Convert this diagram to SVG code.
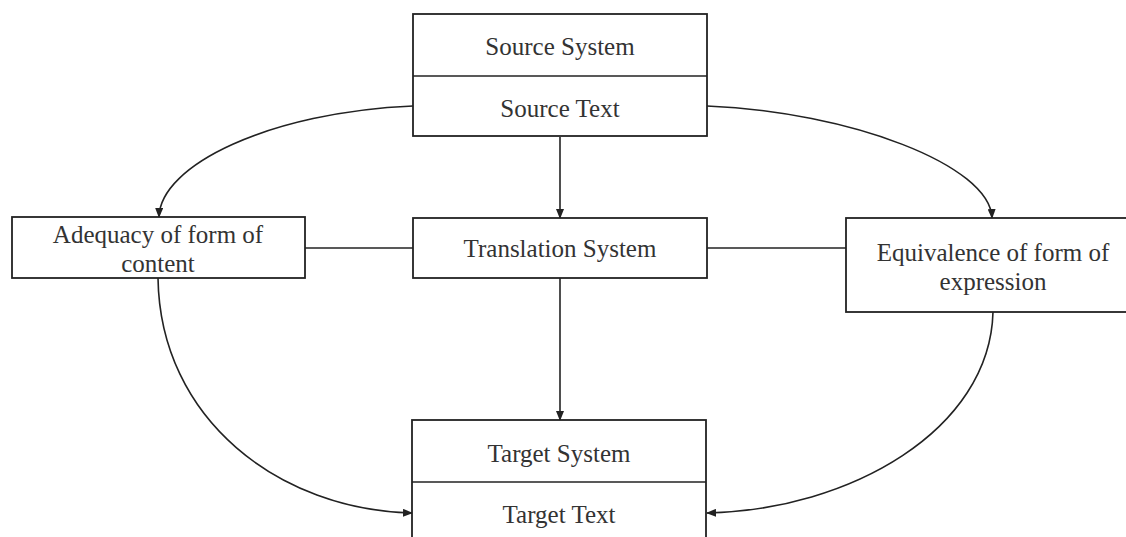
<svg xmlns="http://www.w3.org/2000/svg" width="1126" height="537" viewBox="0 0 1126 537">
<style>
.box{fill:#fff;stroke:#222;stroke-width:1.8}
.ln{fill:none;stroke:#222;stroke-width:1.6}
.t{font-family:"Liberation Serif","Times New Roman",serif;font-size:25px;fill:#333;text-anchor:middle}
</style>
<defs>
<marker id="ah" markerWidth="10" markerHeight="8" refX="9" refY="4" orient="auto" markerUnits="userSpaceOnUse">
<path d="M0,0 L10,4 L0,8 Z" fill="#222"/>
</marker>
</defs>
<rect width="1126" height="537" fill="#fff"/>
<g id="connectors">
<path class="ln" d="M560,137 V218" marker-end="url(#ah)"/>
<path class="ln" d="M560,278 V420" marker-end="url(#ah)"/>
<path class="ln" d="M305,248 H413"/>
<path class="ln" d="M707,248 H846"/>
<path class="ln" d="M413,106 C270,112 160,165 159,217" marker-end="url(#ah)"/>
<path class="ln" d="M707,106 C850,112 990,165 992,218" marker-end="url(#ah)"/>
<path class="ln" d="M158,278 C160,420 280,510 412,513" marker-end="url(#ah)"/>
<path class="ln" d="M993,312 C990,430 850,510 707,513" marker-end="url(#ah)"/>
</g>
<g id="source">
<rect class="box" x="413" y="14" width="294" height="122"/>
<line class="ln" x1="413" y1="76" x2="707" y2="76"/>
<text class="t" x="560" y="55">Source System</text>
<text class="t" x="560" y="117">Source Text</text>
</g>
<g id="translation">
<rect class="box" x="413" y="218" width="294" height="60"/>
<text class="t" x="560" y="257">Translation System</text>
</g>
<g id="adequacy">
<rect class="box" x="12" y="217" width="293" height="61"/>
<text class="t" x="158" y="243">Adequacy of form of</text>
<text class="t" x="158" y="272">content</text>
</g>
<g id="equivalence">
<rect class="box" x="846" y="218" width="300" height="94"/>
<text class="t" x="993" y="261">Equivalence of form of</text>
<text class="t" x="993" y="290">expression</text>
</g>
<g id="target">
<rect class="box" x="412" y="420" width="294" height="130"/>
<line class="ln" x1="412" y1="482" x2="706" y2="482"/>
<text class="t" x="559" y="462">Target System</text>
<text class="t" x="559" y="523">Target Text</text>
</g>
</svg>
